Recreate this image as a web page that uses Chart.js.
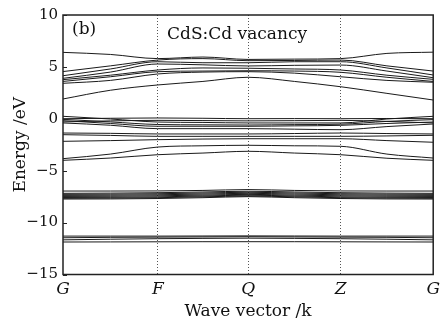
<!DOCTYPE html>
<html><head><meta charset="utf-8">
<script src="https://cdn.jsdelivr.net/npm/chart.js@4.4.1/dist/chart.umd.min.js"></script>
<style>html,body{margin:0;padding:0;background:#fff;}</style>
</head><body>
<canvas id="c" width="445" height="322" style="width:445px;height:322px;display:block"></canvas>
<script>
// k-path sample positions (fraction of path length) and high-symmetry points
const kPath = [0, 0.128, 0.256, 0.378, 0.5, 0.625, 0.75, 0.875, 1];
const symPoints = [0, 0.256, 0.5, 0.75, 1];
const symLabels = ['G', 'F', 'Q', 'Z', 'G'];
const yTicks = [-15, -10, -5, 0, 5, 10];

// Energies (eV) at each kPath sample
const conductionBands = [
  [6.40, 6.20, 5.80, 5.95, 5.72, 5.75, 5.80, 6.30, 6.42],
  [4.55, 5.10, 5.66, 5.80, 5.60, 5.62, 5.66, 5.10, 4.60],
  [4.15, 4.80, 5.50, 5.40, 5.40, 5.50, 5.50, 4.90, 4.22],
  [3.90, 4.50, 5.28, 5.20, 5.09, 5.15, 5.18, 4.60, 3.96],
  [3.77, 4.20, 4.70, 4.90, 4.87, 4.80, 4.70, 4.20, 3.80],
  [3.60, 4.05, 4.54, 4.60, 4.63, 4.60, 4.48, 4.00, 3.60],
  [3.42, 3.70, 4.32, 4.50, 4.54, 4.40, 4.05, 3.70, 3.52],
  [1.91, 2.75, 3.26, 3.60, 4.00, 3.60, 3.09, 2.45, 1.81]
];
const valenceBands = [
  [0.24, -0.02, -0.31, -0.35, -0.40, -0.40, -0.40, -0.02, 0.24],
  [0.01, 0.05, 0.08, 0.05, 0.01, 0.02, 0.01, 0.03, 0.01],
  [-0.18, -0.45, -0.72, -0.72, -0.72, -0.68, -0.63, -0.45, -0.31],
  [-0.40, -0.62, -0.95, -0.95, -0.95, -1.00, -1.05, -0.75, -0.50],
  [-0.05, -0.30, -0.55, -0.58, -0.60, -0.56, -0.52, -0.25, -0.08],
  [-0.30, -0.20, -0.15, -0.17, -0.20, -0.18, -0.15, -0.25, -0.40],
  [-1.37, -1.40, -1.46, -1.46, -1.46, -1.42, -1.37, -1.42, -1.46],
  [-1.53, -1.60, -1.69, -1.69, -1.69, -1.69, -1.69, -1.65, -1.59],
  [-2.17, -2.10, -2.01, -1.95, -1.92, -1.92, -1.92, -2.10, -2.26],
  [-3.84, -3.40, -2.72, -2.60, -2.55, -2.60, -2.65, -3.40, -3.78],
  [-4.00, -3.78, -3.46, -3.30, -3.13, -3.30, -3.46, -3.80, -4.00]
];
const semicoreBands = [
  [-6.96, -6.96, -6.95, -6.90, -6.82, -6.90, -6.95, -6.96, -6.96],
  [-7.18, -7.16, -7.12, -7.05, -6.98, -7.05, -7.12, -7.16, -7.18],
  [-7.28, -7.26, -7.22, -7.15, -7.08, -7.15, -7.22, -7.26, -7.28],
  [-7.38, -7.36, -7.32, -7.25, -7.18, -7.25, -7.32, -7.36, -7.38],
  [-7.48, -7.46, -7.42, -7.35, -7.28, -7.35, -7.42, -7.46, -7.48],
  [-7.58, -7.56, -7.52, -7.44, -7.36, -7.44, -7.52, -7.56, -7.58],
  [-7.66, -7.64, -7.60, -7.52, -7.44, -7.52, -7.60, -7.64, -7.66],
  [-7.73, -7.72, -7.68, -7.60, -7.50, -7.60, -7.68, -7.72, -7.73]
];
const deepBands = [
  [-11.30, -11.30, -11.30, -11.29, -11.28, -11.29, -11.30, -11.30, -11.30],
  [-11.46, -11.42, -11.40, -11.38, -11.36, -11.38, -11.40, -11.42, -11.46],
  [-11.66, -11.60, -11.55, -11.52, -11.50, -11.52, -11.55, -11.60, -11.66],
  [-11.87, -11.86, -11.85, -11.84, -11.84, -11.84, -11.85, -11.86, -11.87]
];

const allBands = [].concat(conductionBands, valenceBands, semicoreBands, deepBands);
const datasets = allBands.map(b => ({
  data: b.map((e, i) => ({x: kPath[i], y: e})),
  borderColor: '#1a1a1a',
  borderWidth: 1,
  pointRadius: 0,
  fill: false,
  cubicInterpolationMode: 'monotone'
}));

const serif = 'DejaVu Serif';

const framePlugin = {
  id: 'frame',
  afterDraw(chart) {
    const {ctx, chartArea: a, scales} = chart;
    ctx.save();
    ctx.strokeStyle = '#222';
    ctx.lineWidth = 1.5;
    ctx.strokeRect(a.left, a.top, a.right - a.left, a.bottom - a.top);
    ctx.lineWidth = 1;
    yTicks.forEach(v => {
      const y = Math.round(scales.y.getPixelForValue(v)) + 0.5;
      ctx.beginPath(); ctx.moveTo(a.left, y); ctx.lineTo(a.left + 4, y); ctx.stroke();
    });
    ctx.fillStyle = '#111';
    ctx.textBaseline = 'alphabetic';
    ctx.textAlign = 'left';
    ctx.font = '17px "DejaVu Serif"';
    ctx.fillText('(b)', a.left + 9, a.top + 19);
    ctx.fillText('CdS:Cd vacancy', 167, 39);
    ctx.restore();
  }
};

new Chart(document.getElementById('c'), {
  type: 'line',
  data: {datasets},
  options: {
    responsive: false,
    devicePixelRatio: 1,
    animation: false,
    events: [],
    layout: {padding: {top: 15, right: 11, left: 0, bottom: 0}},
    plugins: {legend: {display: false}, tooltip: {enabled: false}},
    scales: {
      x: {
        type: 'linear', min: 0, max: 1,
        afterBuildTicks: s => { s.ticks = symPoints.map(v => ({value: v})); },
        afterFit: s => { s.height = 47.5; },
        ticks: {
          callback: (v, i) => symLabels[i],
          font: {family: serif, style: 'italic', size: 17},
          color: '#111', maxRotation: 0, autoSkip: false, padding: 5
        },
        grid: {
          color: c => (c.tick && (c.tick.value === 0 || c.tick.value === 1)) ? 'rgba(0,0,0,0)' : '#555',
          lineWidth: 1, drawTicks: false
        },
        border: {display: false, dash: [1, 2]},
        title: {display: true, text: 'Wave vector /k', font: {family: serif, size: 17}, color: '#111', padding: {top: 0, bottom: 0}}
      },
      y: {
        min: -15, max: 10,
        afterBuildTicks: s => { s.ticks = yTicks.map(v => ({value: v})); },
        afterFit: s => { s.width = 63; },
        ticks: {
          callback: v => String(v).replace('-', '\u2212'),
          font: {family: serif, size: 15}, color: '#111', padding: 5
        },
        grid: {display: false, drawTicks: false},
        border: {display: false},
        title: {display: true, text: 'Energy /eV', font: {family: serif, size: 17}, color: '#111', padding: {top: 10, bottom: 0}}
      }
    }
  },
  plugins: [framePlugin]
});
</script>
</body></html>
